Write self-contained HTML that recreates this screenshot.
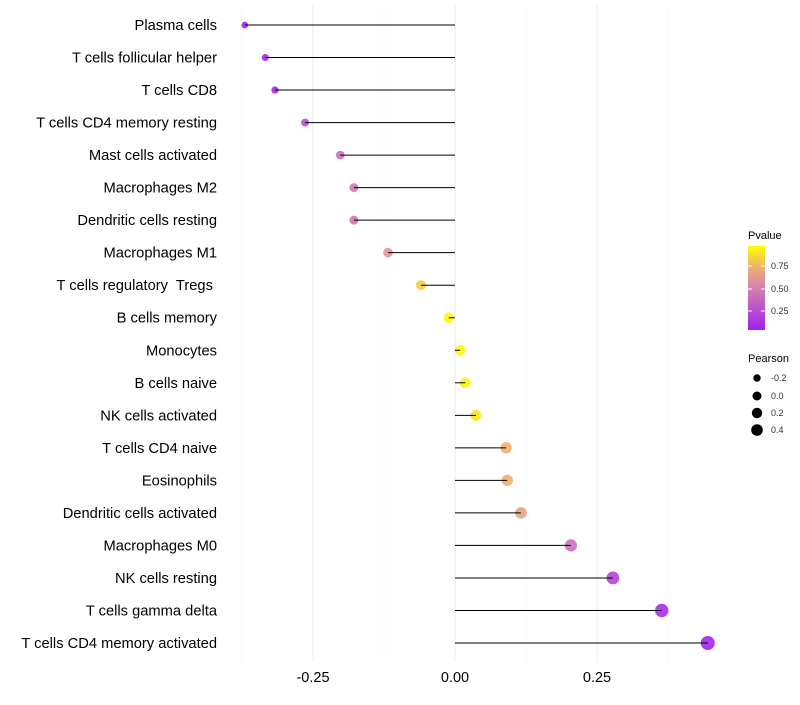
<!DOCTYPE html>
<html><head><meta charset="utf-8"><style>
body{margin:0;background:#fff;font-family:"Liberation Sans",sans-serif}
</style></head><body>
<svg id="chart" width="800" height="700" xmlns="http://www.w3.org/2000/svg" font-family="Liberation Sans, sans-serif">
<g id="grid"></g>
<g id="marks"></g>
<g id="ylab"></g>
<g id="xlab"></g>
<g>
  <defs><linearGradient id="pg" x1="0" y1="1" x2="0" y2="0">
    <stop offset="0" stop-color="#a020f0"/><stop offset="0.5" stop-color="#d580b0"/>
    <stop offset="0.75" stop-color="#efb070"/><stop offset="1" stop-color="#ffff00"/></linearGradient></defs>
  <text x="748" y="239" font-size="11">Pvalue</text>
  <rect x="748" y="246" width="17" height="84" fill="url(#pg)"/>
  <g stroke="#fff" stroke-width="1"><line x1="748" y1="266" x2="752" y2="266"/><line x1="761" y1="266" x2="765" y2="266"/><line x1="748" y1="289" x2="752" y2="289"/><line x1="761" y1="289" x2="765" y2="289"/><line x1="748" y1="311" x2="752" y2="311"/><line x1="761" y1="311" x2="765" y2="311"/></g>
  <g font-size="9" fill="#333"><text x="771" y="269">0.75</text><text x="771" y="292">0.50</text><text x="771" y="314">0.25</text></g>
</g>
<g>
  <text x="748" y="362" font-size="11">Pearson</text>
  <circle cx="757" cy="378" r="3.7"/><circle cx="757" cy="396" r="4.5"/><circle cx="757" cy="413" r="5.2"/><circle cx="757" cy="430" r="5.8"/>
  <g font-size="9" fill="#333"><text x="771" y="381">-0.2</text><text x="771" y="399">0.0</text><text x="771" y="416">0.2</text><text x="771" y="433">0.4</text></g>
</g>
</svg>
<script>
const categories=["Plasma cells","T cells follicular helper","T cells CD8","T cells CD4 memory resting","Mast cells activated","Macrophages M2","Dendritic cells resting","Macrophages M1","T cells regulatory\u00a0 Tregs\u00a0","B cells memory","Monocytes","B cells naive","NK cells activated","T cells CD4 naive","Eosinophils","Dendritic cells activated","Macrophages M0","NK cells resting","T cells gamma delta","T cells CD4 memory activated"];
const pearson=[-0.370,-0.334,-0.317,-0.264,-0.202,-0.178,-0.178,-0.118,-0.060,-0.011,0.009,0.018,0.037,0.090,0.092,0.116,0.204,0.278,0.364,0.445];
const pvalues=[0.03,0.05,0.05,0.25,0.4,0.45,0.45,0.62,0.85,0.98,0.98,0.96,0.92,0.75,0.75,0.68,0.42,0.2,0.08,0.03];
const xTicks=[-0.25,0,0.25];
const xTickLabels=["-0.25","0.00","0.25"];
const NS="http://www.w3.org/2000/svg";
const x=v=>455+v*568;
const y=i=>25+i*(618/(categories.length-1));
const rad=v=>Math.sqrt(Math.max(2.5,28.3+46.5*v));
function hex(h){return [1,3,5].map(k=>parseInt(h.substr(k,2),16));}
const stops=[[0,"#a020f0"],[0.5,"#d580b0"],[0.75,"#efb070"],[1,"#ffff00"]];
function col(p){for(let k=1;k<stops.length;k++){if(p<=stops[k][0]||k==stops.length-1){const a=stops[k-1],b=stops[k];const t=Math.min(1,Math.max(0,(p-a[0])/(b[0]-a[0])));const A=hex(a[1]),B=hex(b[1]);return "rgb("+A.map((c,j)=>Math.round(c+(B[j]-c)*t)).join(",")+")";}}}
function mk(t,a,p){const e=document.createElementNS(NS,t);for(const k in a)e.setAttribute(k,a[k]);p.appendChild(e);return e;}
const grid=document.getElementById('grid');
[-0.375,-0.25,-0.125,0,0.125,0.25,0.375].forEach(v=>{
  const minor=Math.abs(v*8)%2==1;
  const l=mk('line',{x1:x(v),x2:x(v),y1:5,y2:662,stroke:minor?'#f4f4f4':'#ebebeb','stroke-width':minor?0.6:1},grid);
  
  
});
const marks=document.getElementById('marks'),yl=document.getElementById('ylab'),xl=document.getElementById('xlab');
categories.forEach((c,i)=>{
  const v=pearson[i];
  const cc=mk('circle',{cx:x(v),cy:y(i),r:rad(v),fill:col(pvalues[i]),'fill-opacity':0.9},marks);
  
  
  const l=mk('line',{x1:x(0),x2:x(v),y1:y(i),y2:y(i),stroke:'#000','stroke-width':1},marks);
  
  
  const t=mk('text',{x:217,y:y(i)+5,'text-anchor':'end','font-size':14.7,fill:'#000'},yl);
  t.textContent=c;
  
  
});
xTicks.forEach((v,i)=>{
  const t=mk('text',{x:x(v),y:682,'text-anchor':'middle','font-size':14.5,fill:'#000'},xl);
  t.textContent=xTickLabels[i];
  
  
});
</script>
</body></html>
